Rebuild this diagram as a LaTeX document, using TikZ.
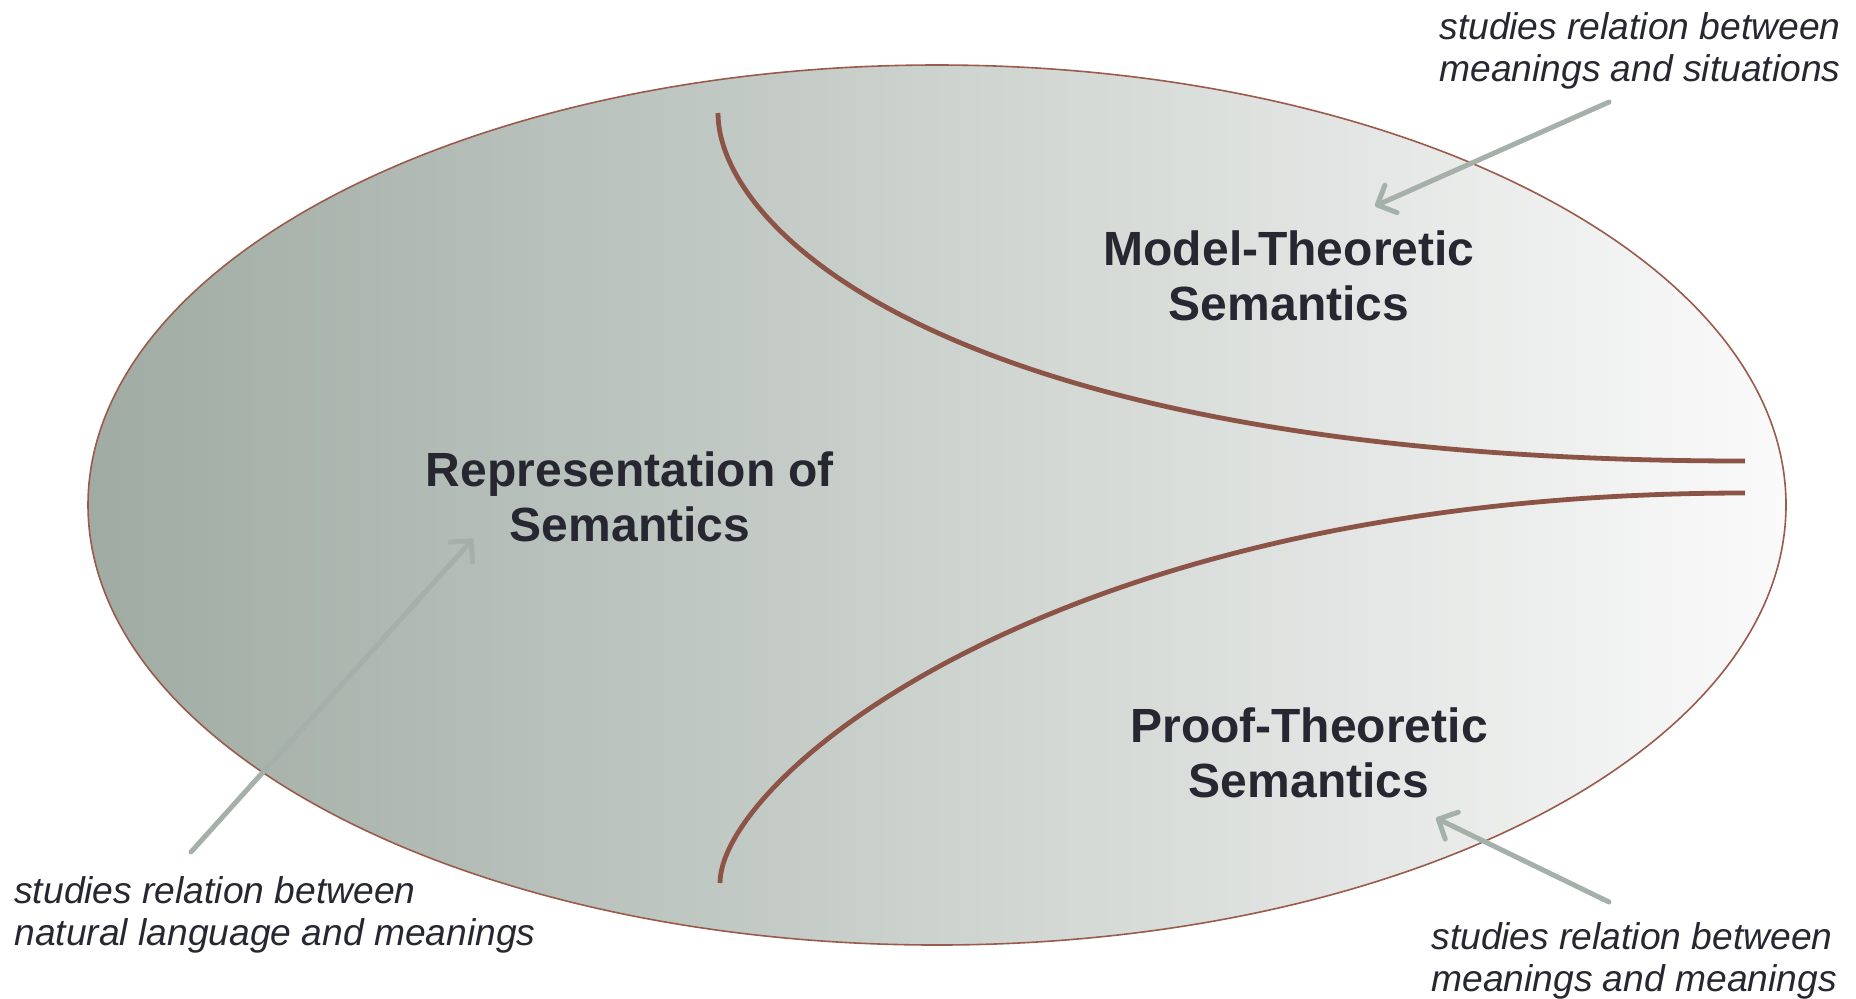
\documentclass[tikz,border=0pt]{standalone}
\usepackage{fontspec}
\setmainfont{Liberation Sans}
\usetikzlibrary{arrows.meta}
\definecolor{brownline}{HTML}{8C5447}
\definecolor{ellborder}{HTML}{9A5B4C}
\definecolor{txt}{HTML}{272732}
\definecolor{arrowgray}{HTML}{A5B0AA}
\definecolor{shadeL}{HTML}{9FABA3}
\definecolor{shadeR}{HTML}{FAFAFA}
\begin{document}
\begin{tikzpicture}[x=0.5pt,y=-0.5pt,
 title/.style={font=\fontsize{24}{27.5}\selectfont\bfseries, text=txt, align=center, inner sep=0},
 note/.style={font=\fontsize{18.6}{21.3}\selectfont\itshape, text=txt, align=left, inner sep=0, anchor=west},
 divider/.style={draw=brownline, line width=2.4pt},
 pointer/.style={draw=arrowgray, line width=2.5pt, -{Straight Barb[length=7.5pt,width=15pt,round]}, line cap=round}]
\useasboundingbox (0,0) rectangle (1856,998);
\shade[left color=shadeL, right color=shadeR] (937,505) ellipse [x radius=424.5pt, y radius=220pt];
\draw[ellborder, line width=0.8pt] (937,505) ellipse [x radius=424.5pt, y radius=220pt];
\draw[divider] (718,113) .. controls (718,230) and (950,461) .. (1745,461);
\draw[divider] (720,883) .. controls (720,780) and (1050,493) .. (1745,493);

\node[title] (model) at (1289,276) {Model-Theoretic\\Semantics};
\node[title] (repr) at (630,497) {Representation of\\Semantics};
\node[title] (proof) at (1309,753) {Proof-Theoretic\\Semantics};

\node[note] (ntr) at (1439,51) {studies relation between\\meanings and situations};
\node[note] (nbl) at (14,915) {studies relation between\\natural language and meanings};
\node[note] (nbr) at (1431,961) {studies relation between\\meanings and meanings};

\coordinate (a1s) at (1609,102);
\coordinate (a1e) at (1375,206);
\coordinate (a2s) at (191,852);
\coordinate (a2e) at (473,539);
\coordinate (a3s) at (1609,902);
\coordinate (a3e) at (1436,818);
\draw[pointer] (a1s) -- (a1e);
\draw[pointer] (a2s) -- (a2e);
\draw[pointer] (a3s) -- (a3e);
\end{tikzpicture}
\end{document}
